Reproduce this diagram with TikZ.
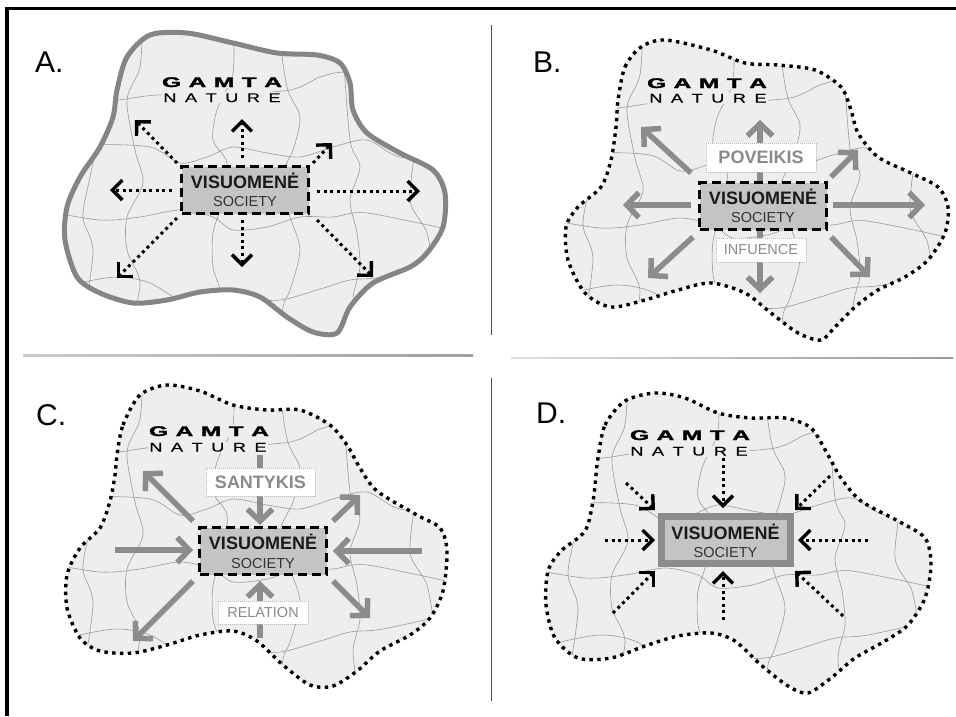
\documentclass[tikz,border=0pt]{standalone}
\usepackage{fontspec}
\setmainfont{Liberation Sans}
\newfontfamily\gamtafont[FakeBold=1.6]{Liberation Sans Bold}
\newfontfamily\naturefont[FakeBold=0.4]{Liberation Sans}
\usepackage{graphicx}
\usetikzlibrary{arrows.meta}
\definecolor{bfill}{HTML}{EEEEEE}
\definecolor{gridc}{HTML}{9A9A9A}
\definecolor{boxf}{HTML}{C4C4C4}
\definecolor{agray}{HTML}{8C8C8C}
\definecolor{lgray}{HTML}{8A8A8A}
\definecolor{outA}{HTML}{858585}
\definecolor{vistext}{HTML}{1A1A1A}
\definecolor{soctext}{HTML}{333333}

\newcommand\gamtaW{\scalebox{1.75}[1]{\fontsize{14}{14}\gamtafont G\kern4.3pt A\kern4.3pt M\kern4.3pt T\kern4.3pt A}}
\newcommand\natureW{\scalebox{1.45}[1]{\fontsize{12.5}{12.5}\naturefont N\kern5.9pt A\kern5.9pt T\kern5.9pt U\kern5.9pt R\kern5.9pt E}}

\def\blobA{plot[smooth cycle] coordinates {(117,90)(127,57)(150,35)(187,33)(233,43)(277,53)(317,55)(340,63)(350,83)(353,110)(367,133)(400,153)(433,170)(445,193)(443,227)(427,253)(410,267)(373,283)(350,307)(337,333)(313,332)(287,317)(260,297)(233,290)(200,292)(167,300)(133,303)(100,293)(77,277)(65,240)(67,207)(80,177)(100,147)(113,117)}}
\def\blobB{plot[smooth cycle] coordinates {(618,100)(625,67)(641,47)(665,40)(711,50)(745,63)(778,65)(815,70)(841,87)(851,110)(858,133)(878,157)(911,173)(938,187)(948,207)(945,233)(928,260)(905,277)(878,290)(855,307)(835,327)(821,340)(798,333)(771,313)(745,293)(711,283)(678,290)(645,300)(611,307)(585,293)(568,260)(566,227)(578,207)(601,187)(611,160)(616,127)}}
\def\blobC{plot[smooth cycle] coordinates {(117,455)(123,425)(140,395)(167,385)(200,391)(233,405)(267,410)(300,410)(330,425)(347,445)(360,468)(377,491)(417,515)(440,528)(447,551)(443,591)(430,618)(410,635)(380,651)(357,671)(333,686)(310,685)(283,665)(257,641)(233,631)(200,635)(167,645)(133,653)(100,651)(80,638)(67,608)(67,575)(80,548)(100,528)(110,501)(115,475)}}
\def\blobD{plot[smooth cycle] coordinates {(598,458)(605,425)(625,401)(655,393)(685,398)(718,413)(751,418)(785,418)(811,428)(828,455)(841,478)(861,501)(898,521)(925,538)(931,565)(925,598)(908,625)(885,641)(855,658)(831,678)(808,693)(788,686)(761,665)(735,641)(711,633)(678,636)(645,646)(611,658)(578,658)(555,638)(546,605)(548,571)(561,551)(585,531)(593,501)(596,475)}}

\newcommand\gridlines{%
  \draw[gridline] plot[smooth] coordinates {(40,108)(60,105)(118,100)(157,95)(220,95)(290,90)(320,77)(343,72)(400,70)};
  \draw[gridline] plot[smooth] coordinates {(40,152)(90,145)(150,147)(180,163)(207,157)(233,147)(267,153)(300,157)(333,147)(367,140)(400,157)(460,160)};
  \draw[gridline] plot[smooth] coordinates {(40,210)(100,220)(140,217)(180,210)(213,217)(233,230)(267,227)(300,217)(333,217)(367,213)(460,232)};
  \draw[gridline] plot[smooth] coordinates {(40,295)(80,283)(117,277)(150,283)(190,305)(230,300)(280,300)(317,290)(350,280)(383,277)(460,260)};
  \draw[gridline] plot[smooth] coordinates {(100,130)(90,177)(83,217)(93,250)(85,310)};
  \draw[gridline] plot[smooth] coordinates {(143,15)(140,67)(127,100)(135,150)(143,183)(127,217)(127,250)(140,283)(130,330)};
  \draw[gridline] plot[smooth] coordinates {(233,20)(233,73)(217,110)(213,140)(227,163)(223,200)(213,233)(213,267)(220,293)(215,340)};
  \draw[gridline] plot[smooth] coordinates {(277,20)(287,87)(300,117)(293,150)(280,180)(290,217)(300,250)(290,290)(283,307)(280,350)};
  \draw[gridline] plot[smooth] coordinates {(343,50)(350,140)(360,167)(350,200)(357,233)(360,267)(353,300)(360,350)};
  \draw[gridline] plot[smooth] coordinates {(417,140)(410,200)(427,233)(435,280)};
}

\tikzset{
  gridline/.style={draw=gridc, line width=0.6pt},
  dotout/.style={draw=black, line width=3.4pt, dash pattern=on 3.4pt off 4.4pt},
  solidout/.style={draw=outA, line width=5pt},
  socbox/.style={draw=black, fill=boxf, line width=3pt, dash pattern=on 9pt off 5pt, minimum width=127pt, minimum height=47pt, inner sep=0pt},
  socboxD/.style={draw=agray, fill=boxf, line width=7pt, minimum width=129pt, minimum height=47pt, inner sep=0pt},
  vis/.style={anchor=base, inner sep=0pt, text=vistext, font=\fontsize{18}{18}\selectfont\bfseries},
  soc/.style={anchor=base, inner sep=0pt, text=soctext, font=\fontsize{14.5}{14.5}\selectfont},
  gam/.style={anchor=base, inner sep=1pt, fill=bfill, text=black},
  panel/.style={anchor=base west, inner sep=0pt, font=\fontsize{30}{30}\selectfont},
  lbox/.style={fill=white, draw=gray!55, line width=0.7pt, dash pattern=on 1pt off 1pt, text=lgray, inner sep=0pt},
  dotarrow/.style={draw=black, line width=3pt, dash pattern=on 3pt off 3.6pt, -{Straight Barb[length=10pt,width=20pt,line width=3.4pt]}},
  grayarrow/.style={draw=agray, line width=5.5pt, -{Straight Barb[length=12pt,width=25pt]}},
}

\begin{document}
\begin{tikzpicture}[x=1pt,y=-1pt]
\useasboundingbox (0,0) rectangle (956,716);
\fill[white] (0,0) rectangle (956,716);

% frame and separators
\draw[line width=3.5pt] (7,716) -- (7,8.5) -- (956,8.5);
\shade[left color=gray!40, right color=gray!75] (23,354.5) rectangle (473,356);
\shade[left color=gray!25, right color=gray!80] (511,357) rectangle (953,358.5);
\draw[gray!60!black, line width=0.8pt] (491,25) -- (491,335);
\draw[gray!60!black, line width=0.8pt] (491,378) -- (491,701);

% ================= Panel A =================
\fill[bfill] \blobA;
\begin{scope}\clip \blobA; \gridlines \end{scope}
\draw[solidout] \blobA;
\node[panel] (labA) at (35,72) {A.};
\node[gam] (gA) at (222,87) {\gamtaW};
\node[gam] (nA) at (222,102) {\natureW};
\foreach \n/\p/\q in {aU/{242,158}/{242,119}, aUL/{177,163}/{135,120}, aUR/{313,163}/{332,143}, aL/{172,190}/{110,190}, aR/{317,191}/{420,191}, aDL/{177,218}/{117,278}, aD/{242,220}/{242,267}, aDR/{317,220}/{373,277}}
  {\coordinate (\n s) at (\p); \coordinate (\n e) at (\q); \draw[dotarrow] (\n s) -- (\n e);}
\node[socbox] (sA) at (245,190) {};
\node[vis] (vA) at ([yshift=1.4pt]sA.center) {VISUOMENĖ};
\node[soc] (oA) at ([yshift=-16.8pt]sA.center) {SOCIETY};

% ================= Panel B =================
\fill[bfill] \blobB;
\begin{scope}\clip \blobB; \begin{scope}[shift={(500,8)}]\gridlines\end{scope}\end{scope}
\draw[dotout] \blobB;
\node[panel] (labB) at (533,72) {B.};
\node[gam] (gB) at (707,88) {\gamtaW};
\node[gam] (nB) at (708,102.5) {\natureW};
\foreach \n/\p/\q in {bUL/{691,173}/{641,127}, bU/{760,182}/{760,120}, bUR/{831,177}/{858,150}, bL/{691,205}/{623,205}, bR/{833,205}/{925,205}, bDL/{693,237}/{648,278}, bD/{760,230}/{760,293}, bDR/{831,237}/{870,277}}
  {\coordinate (\n s) at (\p); \coordinate (\n e) at (\q); \draw[grayarrow] (\n s) -- (\n e);}
\node[socbox] (sB) at (763,206) {};
\node[vis] (vB) at ([yshift=1.9pt]sB.center) {VISUOMENĖ};
\node[soc] (oB) at ([yshift=-16.6pt]sB.center) {SOCIETY};
\node[lbox, minimum width=110pt, minimum height=29pt, font=\fontsize{18}{18}\selectfont\bfseries] (pov) at (761,157.5) {POVEIKIS};
\node[lbox, minimum width=90pt, minimum height=24pt, font=\fontsize{14.5}{14.5}\selectfont] (inf) at (761,250) {INFUENCE};

% ================= Panel C =================
\fill[bfill] \blobC;
\begin{scope}\clip \blobC; \begin{scope}[shift={(0,352)}]\gridlines\end{scope}\end{scope}
\draw[dotout] \blobC;
\node[panel] (labC) at (36,425) {C.};
\node[gam] (gC) at (209,436) {\gamtaW};
\node[gam] (nC) at (208,451.5) {\natureW};
\foreach \n/\p/\q in {cUL/{193,521}/{143,471}, cU/{260,455}/{260,525}, cUR/{333,521}/{360,495}, cL/{115,550}/{193,550}, cR/{422,551}/{333,551}, cDL/{193,581}/{133,641}, cD/{260,638}/{260,581}, cDR/{333,581}/{370,618}}
  {\coordinate (\n s) at (\p); \coordinate (\n e) at (\q); \draw[grayarrow] (\n s) -- (\n e);}
\node[socbox] (sC) at (263,551) {};
\node[vis] (vC) at ([yshift=1.4pt]sC.center) {VISUOMENĖ};
\node[soc] (oC) at ([yshift=-17pt]sC.center) {SOCIETY};
\node[lbox, minimum width=109pt, minimum height=28pt, font=\fontsize{18}{18}\selectfont\bfseries] (san) at (260.5,482) {SANTYKIS};
\node[lbox, minimum width=90pt, minimum height=23pt, font=\fontsize{14.5}{14.5}\selectfont] (rel) at (263,612.5) {RELATION};

% ================= Panel D =================
\fill[bfill] \blobD;
\begin{scope}\clip \blobD; \begin{scope}[shift={(485,358)}]\gridlines\end{scope}\end{scope}
\draw[dotout] \blobD;
\node[panel] (labD) at (536,423) {D.};
\node[gam] (gD) at (690,440) {\gamtaW};
\node[gam] (nD) at (689,455.5) {\natureW};
\node[socboxD] (sD) at (725.5,540) {};
\node[vis] (vD) at ([yshift=0.4pt]sD.center) {VISUOMENĖ};
\node[soc] (oD) at ([yshift=-17pt]sD.center) {SOCIETY};
\foreach \n/\p/\q in {dUL/{626,483}/{655,510}, dU/{723,458}/{723,508}, dUR/{830,476}/{795,510}, dL/{605,540}/{655,540}, dR/{868,540}/{798,540}, dDL/{613,613}/{655,571}, dD/{723,620}/{723,571}, dDR/{843,616}/{795,571}}
  {\coordinate (\n s) at (\p); \coordinate (\n e) at (\q); \draw[dotarrow] (\n s) -- (\n e);}
\end{tikzpicture}
\end{document}
